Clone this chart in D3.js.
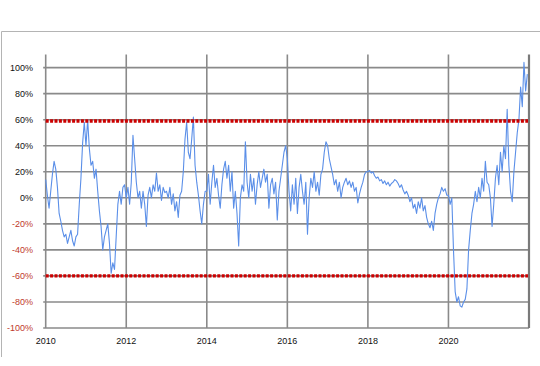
<!DOCTYPE html>
<html lang="en">
<head>
  <meta charset="UTF-8" />
  <title>Deviation chart</title>
  <script src="https://d3js.org/d3.v7.min.js"></script>
  <style>
    html, body { margin: 0; background: #fff; }
    svg { display: block; font-family: "Liberation Sans", Arial, sans-serif; }
    .grid line { stroke: #8a8a8a; stroke-width: 1.6px; }
    .ylab { font-size: 9px; }
    .xlab { font-size: 9px; fill: #111; }
  </style>
</head>
<body>
  <svg id="chart" width="540" height="366"></svg>
  <script>
    // half-month readings (24 per year), percent
    const v2010 = [14, 2, -8, 5, 18, 28, 22, 8, -12, -18, -25, -30, -28, -35, -30, -25, -33, -37, -30, -28, -5, 15, 42, 58];
    const v2011 = [40, 60, 38, 25, 28, 15, 22, 5, -10, -22, -40, -30, -25, -20, -35, -58, -50, -55, -30, -5, 5, -5, 8, 10];
    const v2012 = [0, 8, -5, 12, 48, 30, 12, 0, 5, -8, 5, -5, -22, 2, 8, 0, 10, 5, 19, 5, 10, -2, 8, 4];
    const v2013 = [5, 0, 8, -5, 3, -10, -3, -15, 2, 5, 20, 45, 58, 35, 30, 45, 62, 25, 12, 2, -10, -20, -5, 5];
    const v2014 = [5, 18, -5, 12, 25, 8, 15, 2, -8, 10, 22, 28, 15, 25, 5, 20, -8, 5, -12, -37, 0, 10, 5, 43];
    const v2015 = [12, 0, 18, 5, 15, -5, 10, 20, 8, 15, 22, 12, 18, -8, 10, 15, 3, 12, -17, 5, 15, 25, 35, 40];
    const v2016 = [30, 5, -10, 10, -5, 15, -12, 8, 18, 5, -5, 12, -28, 0, 15, 8, 20, 5, 12, 2, 18, 22, 35, 43];
    const v2017 = [40, 30, 24, 18, 10, 14, 5, 12, 0, 8, 12, 15, 10, 13, 8, 12, 5, 8, -4, 3, 8, 12, 18, 20];
    const v2018 = [20, 21, 19, 20, 17, 15, 16, 13, 14, 11, 13, 10, 12, 9, 11, 12, 14, 13, 11, 8, 10, 6, 3, 5];
    const v2019 = [2, -3, 0, -8, -5, -12, -3, -8, 0, -10, -6, -15, -20, -23, -18, -25, -12, -5, 0, 3, 8, 5, 7, 2];
    const v2020 = [2, -5, 0, -40, -72, -80, -76, -83, -84, -80, -78, -70, -40, -25, -12, -5, 5, -3, 8, 0, 15, 5, 28, 12];
    const v2021 = [10, 0, -22, -5, 15, 25, 10, 35, 20, 40, 30, 68, 25, 5, -3, 20, 35, 50, 60, 85, 70, 104, 82, 95];

    const startYear = 2010;
    const perYear = 24;
    const thresholds = [59, -60];
    const yTicks = [-100, -80, -60, -40, -20, 0, 20, 40, 60, 80, 100];
    const xTicks = [2010, 2012, 2014, 2016, 2018, 2020, 2022];
    const xLabels = ['2010', '2012', '2014', '2016', '2018', '2020'];

    const values = [].concat(v2010, v2011, v2012, v2013, v2014, v2015,
                             v2016, v2017, v2018, v2019, v2020, v2021);
    const series = values.map((v, i) => ({t: startYear + i / perYear, v}));

    const svg = d3.select('#chart');
    const plotL = 45.7, plotR = 529, plotT = 54.6, plotB = 328;

    const x = d3.scaleLinear().domain([2010, 2022]).range([plotL, plotR]);
    const y = d3.scaleLinear().domain([-100, 110]).range([plotB, plotT]);

    // outer chart border (left + top)
    svg.append('path')
      .attr('d', `M1.5,357V31.5H540`)
      .attr('fill', 'none')
      .attr('stroke', '#b4b4b4')
      .attr('stroke-width', 1);

    const grid = svg.append('g').attr('class', 'grid');
    grid.selectAll('line.h')
      .data(yTicks)
      .enter().append('line')
        .attr('class', 'h')
        .attr('x1', plotL - 2.5)
        .attr('x2', plotR)
        .attr('y1', d => y(d))
        .attr('y2', d => y(d));
    grid.selectAll('line.v')
      .data(xTicks)
      .enter().append('line')
        .attr('class', 'v')
        .attr('x1', d => x(d))
        .attr('x2', d => x(d))
        .attr('y1', plotT)
        .attr('y2', plotB)
        .style('stroke-width', d => d === 2022 ? 2.2 : null)
        .style('stroke', d => d === 2022 ? '#7a7a7a' : null);

    // y labels, negatives in red
    svg.append('g').selectAll('text')
      .data(yTicks)
      .enter().append('text')
        .attr('class', 'ylab')
        .attr('x', 33)
        .attr('y', d => y(d))
        .attr('dy', '0.35em')
        .attr('text-anchor', 'end')
        .attr('fill', d => d < 0 ? '#c0392b' : '#111')
        .text(d => d + '%');

    svg.append('g').selectAll('text')
      .data(xLabels)
      .enter().append('text')
        .attr('class', 'xlab')
        .attr('x', d => x(+d))
        .attr('y', 344)
        .attr('text-anchor', 'middle')
        .text(d => d);

    // the series
    const line = d3.line()
      .x(d => x(d.t))
      .y(d => y(d.v));
    svg.append('path')
      .datum(series)
      .attr('fill', 'none')
      .attr('stroke', '#5b8fe8')
      .attr('stroke-width', 1.1)
      .attr('stroke-linejoin', 'round')
      .attr('d', line);

    // red dotted threshold lines
    svg.append('g').selectAll('line')
      .data(thresholds)
      .enter().append('line')
        .attr('x1', plotL)
        .attr('x2', plotR - 1)
        .attr('y1', d => y(d))
        .attr('y2', d => y(d))
        .attr('stroke', '#cc0000')
        .attr('stroke-width', 3.4)
        .attr('stroke-dasharray', '3,1.4');
  </script>
</body>
</html>
